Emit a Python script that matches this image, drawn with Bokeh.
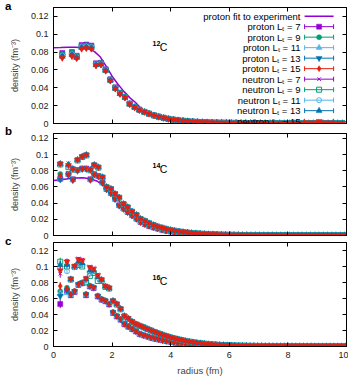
from bokeh.plotting import figure
from bokeh.layouts import column
from bokeh.models import (ColumnDataSource, FixedTicker, LinearAxis, Range1d,
                          CustomJSTickFormatter, Div)
from bokeh.core.properties import value
from bokeh.embed import file_html
from bokeh.resources import INLINE

FONT = "Liberation Sans"

# ---- series styling: lattice sizes L_t and their colours ----
LT = [7, 9, 11, 13, 15]
COLORS = ["#9400D3", "#009E73", "#56B4E9", "#0072B2", "#E51E10"]
FIT_COLOR = "#9400D3"
P_MARKERS = [("square", True, 5), ("circle", True, 5), ("triangle", True, 6),
             ("inverted_triangle", True, 6), ("diamond", True, 6)]
N_MARKERS = [("x", False, 5), ("square", False, 5), ("circle", False, 5),
             ("triangle", True, 6), ("inverted_triangle", True, 6)]

# ---------------- 12C ----------------
A_R = [0.30, 0.63, 0.79, 0.96, 1.12, 1.29, 1.45, 1.62, 1.78, 1.94, 2.11, 2.27, 2.44, 2.60, 2.77, 2.93]
A_P7 = [0.0790, 0.0800, 0.0760, 0.0880, 0.0885, 0.0874, 0.0675, 0.0680, 0.0607, 0.0495, 0.0405, 0.0345, 0.0300, 0.0225, 0.0188, 0.0155]
A_P9 = [0.0775, 0.0790, 0.0752, 0.0868, 0.0874, 0.0865, 0.0668, 0.0674, 0.0602, 0.0491, 0.0401, 0.0341, 0.0297, 0.0222, 0.0186, 0.0154]
A_P11 = [0.0765, 0.0781, 0.0746, 0.0860, 0.0866, 0.0857, 0.0662, 0.0670, 0.0598, 0.0488, 0.0398, 0.0338, 0.0295, 0.0220, 0.0184, 0.0153]
A_P13 = [0.0752, 0.0770, 0.0740, 0.0851, 0.0856, 0.0849, 0.0657, 0.0665, 0.0594, 0.0484, 0.0394, 0.0335, 0.0292, 0.0218, 0.0182, 0.0152]
A_P15 = [0.0740, 0.0760, 0.0734, 0.0842, 0.0848, 0.0841, 0.0652, 0.0662, 0.0591, 0.0481, 0.0391, 0.0332, 0.0291, 0.0216, 0.0181, 0.0151]
A_N7 = [0.0786, 0.0797, 0.0758, 0.0877, 0.0882, 0.0871, 0.0673, 0.0678, 0.0605, 0.0494, 0.0404, 0.0344, 0.0299, 0.0224, 0.0187, 0.0155]
A_N9 = [0.0772, 0.0787, 0.0750, 0.0866, 0.0871, 0.0862, 0.0666, 0.0673, 0.0601, 0.0490, 0.0400, 0.0340, 0.0296, 0.0221, 0.0185, 0.0154]
A_N11 = [0.0762, 0.0778, 0.0744, 0.0857, 0.0863, 0.0855, 0.0661, 0.0669, 0.0597, 0.0487, 0.0397, 0.0337, 0.0294, 0.0219, 0.0183, 0.0153]
A_N13 = [0.0750, 0.0768, 0.0738, 0.0849, 0.0854, 0.0847, 0.0656, 0.0664, 0.0593, 0.0483, 0.0393, 0.0334, 0.0292, 0.0217, 0.0182, 0.0152]
A_N15 = [0.0735, 0.0754, 0.0730, 0.0837, 0.0843, 0.0837, 0.0650, 0.0660, 0.0590, 0.0480, 0.0390, 0.0330, 0.0290, 0.0215, 0.0180, 0.0150]
A_RT = [3.10, 3.26, 3.43, 3.59, 3.76, 3.92, 4.09, 4.25, 4.42, 4.58, 4.75, 4.91, 5.08, 5.24,
        5.41, 5.57, 5.74, 5.90, 6.07, 6.23, 6.40, 6.56, 6.73, 6.89, 7.06, 7.22, 7.39, 7.55,
        7.72, 7.88, 8.05, 8.21, 8.38, 8.54, 8.71, 8.87, 9.04, 9.20, 9.37, 9.53, 9.70, 9.86]
A_TAIL = [0.0130, 0.0110, 0.0091, 0.0076, 0.0063, 0.0052, 0.0043, 0.0036, 0.0030, 0.0025, 0.0021,
          0.0018, 0.0015, 0.0013, 0.0011, 0.0010, 0.0009, 0.0008, 0.0007, 0.0007, 0.0006, 0.0006,
          0.0005, 0.0005, 0.0005, 0.0004, 0.0004, 0.0004, 0.0004, 0.0003, 0.0003, 0.0003, 0.0003,
          0.0003, 0.0003, 0.0003, 0.0003, 0.0003, 0.0003, 0.0003, 0.0003, 0.0003]
A_FIT_R = [0.0, 0.25, 0.5, 0.75, 1.0, 1.2, 1.4, 1.6, 1.8, 2.0, 2.2, 2.4, 2.6, 2.8, 3.0,
           3.25, 3.5, 3.75, 4.0, 4.5, 5.0, 6.0, 7.0, 8.0, 9.0, 10.0]
A_FIT = [0.0850, 0.0852, 0.0855, 0.0855, 0.0850, 0.0838, 0.0805, 0.0745, 0.0640, 0.0530, 0.0440,
         0.0360, 0.0290, 0.0235, 0.0165, 0.0112, 0.0073, 0.0046, 0.0029, 0.0011, 0.0004, 0.0001,
         0.0, 0.0, 0.0, 0.0]

# ---------------- 14C ----------------
B_R = [0.23, 0.51, 0.66, 0.82, 0.98, 1.12, 1.26, 1.39, 1.53, 1.67, 1.81, 1.96, 2.10, 2.24, 2.39, 2.53, 2.68, 2.83, 2.97]
B_P7 = [0.0700, 0.0760, 0.0695, 0.0808, 0.0828, 0.0828, 0.0695, 0.0758, 0.0735, 0.0655, 0.0575, 0.0524, 0.0454, 0.0374, 0.0333, 0.0291, 0.0250, 0.0208, 0.0167]
B_P9 = [0.0760, 0.0755, 0.0690, 0.0805, 0.0826, 0.0826, 0.0692, 0.0755, 0.0732, 0.0652, 0.0572, 0.0522, 0.0452, 0.0372, 0.0331, 0.0289, 0.0248, 0.0207, 0.0166]
B_P11 = [0.0705, 0.0750, 0.0686, 0.0801, 0.0822, 0.0822, 0.0689, 0.0752, 0.0729, 0.0649, 0.0569, 0.0519, 0.0449, 0.0369, 0.0329, 0.0287, 0.0246, 0.0205, 0.0164]
B_P13 = [0.0690, 0.0745, 0.0682, 0.0798, 0.0820, 0.0820, 0.0686, 0.0750, 0.0727, 0.0647, 0.0567, 0.0517, 0.0447, 0.0367, 0.0327, 0.0286, 0.0245, 0.0204, 0.0163]
B_P15 = [0.0740, 0.0750, 0.0687, 0.0802, 0.0823, 0.0823, 0.0690, 0.0753, 0.0730, 0.0650, 0.0570, 0.0520, 0.0450, 0.0370, 0.0330, 0.0288, 0.0247, 0.0206, 0.0165]
B_N7 = [0.0890, 0.0893, 0.0830, 0.0940, 0.0980, 0.1000, 0.0818, 0.0878, 0.0850, 0.0726, 0.0605, 0.0582, 0.0519, 0.0474, 0.0394, 0.0353, 0.0299, 0.0258, 0.0208]
B_N9 = [0.0878, 0.0844, 0.0815, 0.0928, 0.0970, 0.0990, 0.0806, 0.0866, 0.0838, 0.0716, 0.0596, 0.0574, 0.0512, 0.0467, 0.0388, 0.0348, 0.0294, 0.0253, 0.0204]
B_N11 = [0.0882, 0.0860, 0.0820, 0.0932, 0.0974, 0.0994, 0.0810, 0.0870, 0.0842, 0.0719, 0.0599, 0.0576, 0.0514, 0.0469, 0.0390, 0.0350, 0.0296, 0.0255, 0.0206]
B_N13 = [0.0886, 0.0875, 0.0824, 0.0936, 0.0977, 0.0997, 0.0813, 0.0873, 0.0845, 0.0721, 0.0601, 0.0578, 0.0516, 0.0471, 0.0391, 0.0351, 0.0297, 0.0256, 0.0207]
B_N15 = [0.0885, 0.0868, 0.0822, 0.0934, 0.0975, 0.0996, 0.0810, 0.0872, 0.0844, 0.0720, 0.0600, 0.0577, 0.0515, 0.0470, 0.0390, 0.0350, 0.0296, 0.0255, 0.0206]
B_RT = [3.12, 3.26, 3.41, 3.55, 3.70, 3.84, 3.99, 4.13, 4.28, 4.42, 4.57, 4.71, 4.86, 5.00, 5.15, 5.29,
        5.44, 5.58, 5.73, 5.87, 6.02, 6.16, 6.31, 6.45, 6.60, 6.74, 6.89, 7.03, 7.18, 7.32, 7.47, 7.61,
        7.76, 7.90, 8.05, 8.19, 8.34, 8.48, 8.63, 8.77, 8.92, 9.06, 9.21, 9.35, 9.50, 9.64, 9.79, 9.93]
B_TAIL_N = [0.0180, 0.0152, 0.0130, 0.0110, 0.0095, 0.0081, 0.0069, 0.0059, 0.0050, 0.0043, 0.0037, 0.0031,
            0.0027, 0.0023, 0.0020, 0.0017, 0.0015, 0.0013, 0.0011, 0.0010, 0.0009, 0.0008, 0.0007, 0.0006,
            0.0006, 0.0005, 0.0005, 0.0004, 0.0004, 0.0004, 0.0004, 0.0003, 0.0003, 0.0003, 0.0003, 0.0003,
            0.0003, 0.0003, 0.0003, 0.0003, 0.0003, 0.0003, 0.0003, 0.0003, 0.0003, 0.0003, 0.0003, 0.0003]
B_TAIL_P = [0.0140, 0.0118, 0.0100, 0.0085, 0.0071, 0.0060, 0.0050, 0.0042, 0.0035, 0.0029, 0.0024, 0.0020,
            0.0017, 0.0014, 0.0012, 0.0010, 0.0009, 0.0008, 0.0007, 0.0006, 0.0005, 0.0005, 0.0004, 0.0004,
            0.0003, 0.0003, 0.0003, 0.0003, 0.0002, 0.0002, 0.0002, 0.0002, 0.0002, 0.0002, 0.0002, 0.0002,
            0.0002, 0.0002, 0.0002, 0.0002, 0.0002, 0.0002, 0.0002, 0.0002, 0.0002, 0.0002, 0.0002, 0.0002]
B_FIT_R = [0.0, 0.25, 0.5, 0.75, 1.0, 1.25, 1.5, 1.75, 2.0, 2.25, 2.5, 2.75, 3.0, 3.5, 4.0, 4.5,
           5.0, 6.0, 7.0, 8.0, 10.0]
B_FIT = [0.0680, 0.0688, 0.0700, 0.0710, 0.0712, 0.0700, 0.0670, 0.0610, 0.0520, 0.0420, 0.0330,
         0.0250, 0.0180, 0.0090, 0.0042, 0.0019, 0.0008, 0.0001, 0.0, 0.0, 0.0]

# ---------------- 16C ----------------
C_R = [0.23, 0.46, 0.59, 0.72, 0.85, 0.98, 1.11, 1.24, 1.37, 1.51, 1.64, 1.77, 1.90, 2.03, 2.16,
       2.29, 2.42, 2.55, 2.68, 2.81, 2.94]
C_P7 = [0.0530, 0.0690, 0.0640, 0.0680, 0.0770, 0.0790, 0.0640, 0.0750, 0.0730, 0.0625, 0.0585, 0.0565, 0.0525, 0.0420, 0.0375, 0.0335, 0.0278, 0.0248, 0.0218, 0.0188, 0.0155]
C_P9 = [0.0690, 0.0735, 0.0655, 0.0695, 0.0780, 0.0800, 0.0655, 0.0760, 0.0740, 0.0635, 0.0595, 0.0575, 0.0535, 0.0430, 0.0385, 0.0345, 0.0285, 0.0255, 0.0225, 0.0193, 0.0160]
C_P11 = [0.0660, 0.0670, 0.0645, 0.0685, 0.0772, 0.0795, 0.0645, 0.0752, 0.0733, 0.0628, 0.0588, 0.0568, 0.0528, 0.0423, 0.0378, 0.0338, 0.0280, 0.0250, 0.0220, 0.0190, 0.0157]
C_P13 = [0.0630, 0.0700, 0.0650, 0.0690, 0.0775, 0.0797, 0.0650, 0.0755, 0.0735, 0.0630, 0.0590, 0.0570, 0.0530, 0.0425, 0.0380, 0.0340, 0.0280, 0.0250, 0.0220, 0.0190, 0.0157]
C_P15 = [0.0755, 0.0720, 0.0652, 0.0692, 0.0778, 0.0798, 0.0652, 0.0758, 0.0738, 0.0632, 0.0592, 0.0572, 0.0532, 0.0427, 0.0382, 0.0342, 0.0282, 0.0252, 0.0222, 0.0191, 0.0158]
C_N7 = [0.0910, 0.1070, 0.0850, 0.1010, 0.1100, 0.1085, 0.0860, 0.1000, 0.0980, 0.0900, 0.0840, 0.0760, 0.0735, 0.0575, 0.0535, 0.0475, 0.0385, 0.0355, 0.0315, 0.0283, 0.0262]
C_N9 = [0.1060, 0.1000, 0.0837, 0.0995, 0.1020, 0.1000, 0.0800, 0.0880, 0.0920, 0.0820, 0.0820, 0.0745, 0.0725, 0.0565, 0.0525, 0.0465, 0.0375, 0.0345, 0.0305, 0.0277, 0.0258]
C_N11 = [0.0980, 0.0940, 0.0830, 0.0990, 0.1040, 0.1020, 0.0830, 0.0920, 0.0940, 0.0860, 0.0830, 0.0750, 0.0730, 0.0570, 0.0530, 0.0470, 0.0380, 0.0350, 0.0310, 0.0280, 0.0260]
C_N13 = [0.1020, 0.1020, 0.0840, 0.1000, 0.1060, 0.1040, 0.0840, 0.0950, 0.0950, 0.0870, 0.0835, 0.0752, 0.0732, 0.0572, 0.0532, 0.0472, 0.0382, 0.0352, 0.0312, 0.0281, 0.0261]
C_N15 = [0.0950, 0.1060, 0.0845, 0.1005, 0.1090, 0.1075, 0.0850, 0.0990, 0.0970, 0.0890, 0.0838, 0.0755, 0.0733, 0.0573, 0.0533, 0.0473, 0.0383, 0.0353, 0.0313, 0.0282, 0.0261]
C_ERR = [0.0050, 0.0030, 0.0025, 0.0022, 0.0020, 0.0018, 0.0016, 0.0015, 0.0014, 0.0012, 0.0011,
         0.0010, 0.0009, 0.0008, 0.0007, 0.0006, 0.0006, 0.0005, 0.0005, 0.0004, 0.0004]
C_RT = [3.07, 3.20, 3.33, 3.46, 3.59, 3.72, 3.85, 3.98, 4.11, 4.24, 4.37, 4.50, 4.63, 4.76, 4.89, 5.02,
        5.15, 5.28, 5.41, 5.54, 5.67, 5.80, 5.93, 6.06, 6.19, 6.32, 6.45, 6.58, 6.71, 6.84, 6.97, 7.10,
        7.23, 7.36, 7.49, 7.62, 7.75, 7.88, 8.01, 8.14, 8.27, 8.40, 8.53, 8.66, 8.79, 8.92, 9.05, 9.18,
        9.31, 9.44, 9.57, 9.70, 9.83, 9.96]
C_TAIL_N = [0.0240, 0.0220, 0.0200, 0.0180, 0.0162, 0.0146, 0.0130, 0.0115, 0.0102, 0.0091, 0.0080, 0.0070,
            0.0061, 0.0053, 0.0046, 0.0040, 0.0035, 0.0030, 0.0026, 0.0023, 0.0020, 0.0018, 0.0016, 0.0014,
            0.0012, 0.0011, 0.0010, 0.0009, 0.0008, 0.0008, 0.0007, 0.0007, 0.0006, 0.0006, 0.0005, 0.0005,
            0.0005, 0.0005, 0.0004, 0.0004, 0.0004, 0.0004, 0.0004, 0.0004, 0.0004, 0.0003, 0.0003, 0.0003,
            0.0003, 0.0003, 0.0003, 0.0003, 0.0003, 0.0003]
C_TAIL_P = [0.0140, 0.0125, 0.0110, 0.0098, 0.0087, 0.0077, 0.0068, 0.0060, 0.0052, 0.0045, 0.0040, 0.0035,
            0.0030, 0.0026, 0.0022, 0.0019, 0.0016, 0.0014, 0.0012, 0.0010, 0.0009, 0.0008, 0.0007, 0.0006,
            0.0005, 0.0005, 0.0004, 0.0004, 0.0003, 0.0003, 0.0003, 0.0003, 0.0002, 0.0002, 0.0002, 0.0002,
            0.0002, 0.0002, 0.0002, 0.0002, 0.0002, 0.0002, 0.0002, 0.0002, 0.0002, 0.0002, 0.0002, 0.0002,
            0.0002, 0.0002, 0.0002, 0.0002, 0.0002, 0.0002]

X_TICKS = [0, 2, 4, 6, 8, 10]
Y_TICKS = [0, 0.02, 0.04, 0.06, 0.08, 0.1, 0.12]

LEGEND_LABELS = ["proton fit to experiment"] + \
    [f"proton L\u209c = {l}" for l in LT] + [f"neutron L\u209c = {l}" for l in LT]

Y_FMT = CustomJSTickFormatter(code="return (Math.round(tick * 100) / 100).toString();")


def style_axis(ax, ticks, show_labels, fmt=None):
    ax.ticker = FixedTicker(ticks=ticks)
    ax.major_tick_in = 4
    ax.major_tick_out = 0
    ax.minor_tick_line_color = None
    ax.axis_line_color = "black"
    ax.major_tick_line_color = "black"
    if show_labels:
        if fmt is not None:
            ax.formatter = fmt
        ax.major_label_text_font = FONT
        ax.major_label_text_font_size = "9px"
        ax.major_label_text_color = "#222222"
        ax.major_label_standoff = 5
    else:
        ax.formatter = CustomJSTickFormatter(code="return '';")
        ax.major_label_text_font_size = "0px"
        ax.major_label_standoff = 0


def make_panel(height, top, bottom, ymax, show_x):
    p = figure(width=348, height=height, x_range=Range1d(0, 10), y_range=Range1d(0, ymax),
               output_backend="svg", toolbar_location=None,
               min_border_left=53, min_border_right=2,
               min_border_top=top, min_border_bottom=bottom)
    p.outline_line_color = "black"
    p.outline_line_width = 1
    p.xgrid.visible = False
    p.ygrid.visible = False
    p.background_fill_color = "white"
    p.border_fill_color = "white"
    style_axis(p.below[0], X_TICKS, show_x)
    style_axis(p.left[0], Y_TICKS, True, Y_FMT)
    left = p.left[0]
    left.axis_label = "density (fm\u207b\u00b3)"
    left.axis_label_text_font = FONT
    left.axis_label_text_font_size = "9px"
    left.axis_label_text_font_style = "normal"
    left.axis_label_text_color = "#444444"
    left.axis_label_standoff = 8
    if show_x:
        b = p.below[0]
        b.axis_label = "radius (fm)"
        b.axis_label_text_font = FONT
        b.axis_label_text_font_size = "9.5px"
        b.axis_label_text_font_style = "normal"
        b.axis_label_text_color = "#444444"
        b.axis_label_standoff = 4
    # mirrored tick marks on the top and right edges
    top_ax = LinearAxis()
    style_axis(top_ax, X_TICKS, False)
    p.add_layout(top_ax, "above")
    right_ax = LinearAxis()
    style_axis(right_ax, Y_TICKS, False)
    p.add_layout(right_ax, "right")
    return p


def draw_points(p, r, vals, style, color, err=None):
    marker, filled, size = style
    pairs = list(zip(r, vals))
    src = ColumnDataSource(dict(r=[a for a, _ in pairs], v=[b for _, b in pairs]))
    if err is not None:
        e = list(zip(r, vals, err))
        p.segment(x0=[a for a, _, _ in e], y0=[b - c for _, b, c in e],
                  x1=[a for a, _, _ in e], y1=[b + c for _, b, c in e],
                  line_color=color, line_width=1)
    if marker == "x":
        p.scatter("r", "v", source=src, marker="x", size=size, line_color=color, line_width=1)
    elif filled:
        p.scatter("r", "v", source=src, marker=marker, size=size,
                  fill_color=color, line_color=color, line_width=0.5)
    else:
        p.scatter("r", "v", source=src, marker=marker, size=size,
                  fill_color=None, line_color=color, line_width=1)


def draw_panel(p, r_near, r_tail, protons, neutrons, tail_p, tail_n, err=None):
    for vals, style, color in zip(protons, P_MARKERS, COLORS):
        draw_points(p, r_near + r_tail, vals + tail_p, style, color,
                    None if err is None else err + [0.0] * len(tail_p))
    for vals, style, color in zip(neutrons, N_MARKERS, COLORS):
        draw_points(p, r_near + r_tail, vals + tail_n, style, color,
                    None if err is None else err + [0.0] * len(tail_n))


def nucleus_label(p, x_sup, y_sup, x_c, y_c, mass):
    p.text(x=[x_sup], y=[y_sup], text=[mass], text_font=value(FONT), text_font_size="7px",
           text_font_style="bold", text_align="left", text_baseline="alphabetic",
           text_color="black")
    p.text(x=[x_c], y=[y_c], text=["C"], text_font=value(FONT), text_font_size="10.5px",
           text_align="left", text_baseline="alphabetic", text_color="black")


def panel_letter(letter, top_px):
    return Div(text=letter, styles={
        "position": "absolute", "left": "5px", "top": f"{top_px}px", "margin": "0",
        "font-family": FONT, "font-size": "11.5px", "font-weight": "bold",
        "line-height": "11.5px", "color": "black"})


# ---- panel a: 12C with fit and legend ----
pa = make_panel(128, 7, 5, 0.13, False)
pa.line(A_FIT_R, A_FIT, line_color=FIT_COLOR, line_width=1.5)
draw_panel(pa, A_R, A_RT, [A_P7, A_P9, A_P11, A_P13, A_P15],
           [A_N7, A_N9, A_N11, A_N13, A_N15], A_TAIL, A_TAIL)
nucleus_label(pa, 3.38, 0.0891, 3.63, 0.0855, "12")

# legend, text right-aligned with the sample on its right
LEG_TX, LEG_X0, LEG_X1, LEG_XM = 8.43, 8.57, 9.56, 9.065
LEG_Y0, LEG_DY, CAP = 0.1203, 0.01177, 0.0027
leg_y = [LEG_Y0 - i * LEG_DY for i in range(len(LEGEND_LABELS))]
pa.text(x=[LEG_TX] * len(leg_y), y=leg_y, text=LEGEND_LABELS, text_font=value(FONT),
        text_font_size="9.5px", text_align="right", text_baseline="middle", text_color="black")
pa.segment(x0=[LEG_X0], y0=[leg_y[0]], x1=[LEG_X1], y1=[leg_y[0]],
           line_color=FIT_COLOR, line_width=1.5)
styles = P_MARKERS + N_MARKERS
colors = COLORS + COLORS
for ly, style, color in zip(leg_y[1:], styles, colors):
    pa.segment(x0=[LEG_X0], y0=[ly], x1=[LEG_X1], y1=[ly], line_color=color, line_width=1)
    pa.segment(x0=[LEG_X0, LEG_X1], y0=[ly - CAP, ly - CAP], x1=[LEG_X0, LEG_X1],
               y1=[ly + CAP, ly + CAP], line_color=color, line_width=1)
    draw_points(pa, [LEG_XM], [ly], style, color)

# ---- panel b: 14C ----
pb = make_panel(112, 5, 5, 0.126, False)
pb.line(B_FIT_R, B_FIT, line_color=FIT_COLOR, line_width=1.5)
draw_panel(pb, B_R, B_RT, [B_P7, B_P9, B_P11, B_P13, B_P15],
           [B_N7, B_N9, B_N11, B_N13, B_N15], B_TAIL_P, B_TAIL_N)
nucleus_label(pb, 3.38, 0.0865, 3.63, 0.0824, "14")

# ---- panel c: 16C ----
pc = make_panel(138, 2, 31, 0.13, True)
draw_panel(pc, C_R, C_RT, [C_P7, C_P9, C_P11, C_P13, C_P15],
           [C_N7, C_N9, C_N11, C_N13, C_N15], C_TAIL_P, C_TAIL_N, err=C_ERR)
nucleus_label(pc, 3.38, 0.0861, 3.63, 0.0821, "16")

layout = column(pa, pb, pc, panel_letter("a", 1), panel_letter("b", 126),
                panel_letter("c", 236), spacing=0)
open("out.html", "w").write(file_html(layout, INLINE))
